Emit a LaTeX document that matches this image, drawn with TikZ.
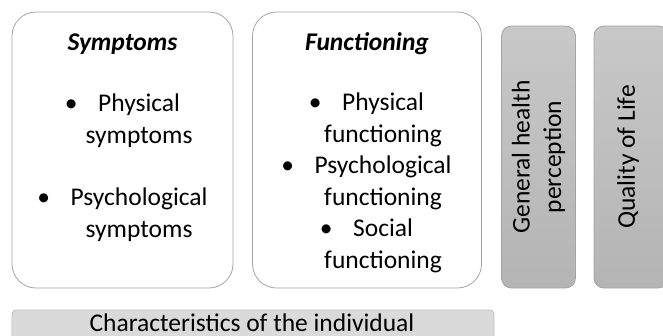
\documentclass[tikz,border=0pt]{standalone}
\usepackage{fontspec}
\setmainfont{Carlito}
\usepackage{tikz}
\usetikzlibrary{positioning}

\definecolor{rimgray}{HTML}{A4A4A4}
\definecolor{bargray}{HTML}{DADADA}
\definecolor{barrim}{HTML}{BEBEBE}
\definecolor{toptone}{HTML}{C8C8C8}
\definecolor{lowtone}{HTML}{B4B4B4}

% hanging bullet: the continuation lines get the same indent
\newcommand{\itemdot}{\makebox[1.3em][l]{\textbullet}}
\newcommand{\itemgap}{\phantom{\itemdot}}

\begin{document}
\begin{tikzpicture}[x=1bp, y=-1bp,
  txt/.style={font=\fontsize{25.5bp}{31.5bp}\selectfont, inner sep=0pt, align=center},
  softbox/.style={draw=rimgray, line width=0.8bp, fill=white, rounded corners=24bp},
  shadebox/.style={draw=rimgray, line width=0.8bp, rounded corners=10bp,
    top color=toptone, bottom color=lowtone},
  barbox/.style={draw=barrim, line width=0.8bp, fill=bargray, rounded corners=4bp}]
\useasboundingbox (0,0) rectangle (663,335);
% Outer boxes
\node[softbox, minimum width=221bp, minimum height=276bp] (symp) at (122.5,150) {};
\node[softbox, minimum width=229bp, minimum height=276bp] (func) at (367,150) {};
\node[shadebox, minimum width=74bp, minimum height=262bp] (ghp) at (538.5,157) {};
\node[shadebox, minimum width=74bp, minimum height=262bp] (qol) at (631,157) {};
\node[barbox, minimum width=482bp, minimum height=36bp] (indiv) at (253,328) {};
% Headings
\node[txt, anchor=base] (symphead) at (122.5,50) {\textbf{\textit{Symptoms}}};
\node[txt, anchor=base] (funchead) at (367,50) {\textbf{\textit{Functioning}}};
% Symptom items (base = last line)
\node[txt, anchor=base] (physsymp) at (122.5,143) {\itemdot Physical\\\itemgap symptoms};
\node[txt, anchor=base] (psysymp) at (122.5,237) {\itemdot Psychological\\\itemgap symptoms};
% Functioning items
\node[txt, anchor=base] (funclist) at (366.5,268) {\itemdot Physical\\\itemgap functioning\\
  \itemdot Psychological\\\itemgap functioning\\
  \itemdot Social\\\itemgap functioning};
% Vertical labels
\node[txt, rotate=90] (ghptext) at (ghp) {General health\\perception};
\node[txt, rotate=90] (qoltext) at (628,157) {Quality of Life};
\node[txt, anchor=base] (indivtext) at (252,331) {Characteristics of the individual};
\end{tikzpicture}
\end{document}
